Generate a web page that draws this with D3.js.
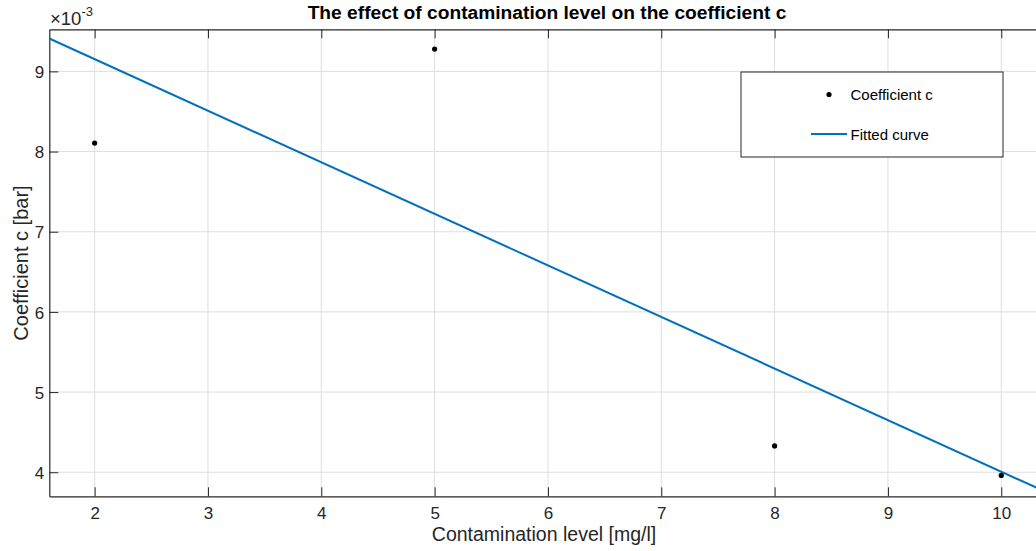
<!DOCTYPE html>
<html><head><meta charset="utf-8">
<script src="https://cdn.jsdelivr.net/npm/d3@7"></script>
<style>body{margin:0;background:#fff;overflow:hidden}svg{display:block}text{font-family:"Liberation Sans",Arial,Helvetica,sans-serif}</style>
</head><body>
<script>
const contamination = [2, 5, 8, 10];
const coefficientC = [8.106e-3, 9.278e-3, 4.328e-3, 3.96e-3];
const fittedX = [1.6, 10.4];
const fittedY = [9.41e-3, 3.75e-3];
const xTicks = [2, 3, 4, 5, 6, 7, 8, 9, 10];
const yTicks = [4, 5, 6, 7, 8, 9];

const W = 1036, H = 551;
const L = 49.3, T = 29.3, B = 496.3, R = 1046.6;
const svg = d3.select("body").append("svg").attr("width", W).attr("height", H);

const x = d3.scaleLinear().domain([1.6, 10.4]).range([L, R]);
const y = d3.scaleLinear().domain([3.7e-3, 9.525e-3]).range([B, T]);
const axisCol = "#262626";

// grid
const g = svg.append("g");
g.selectAll(".gx").data(xTicks).join("line")
  .attr("x1", d => x(d)).attr("x2", d => x(d)).attr("y1", T).attr("y2", B)
  .attr("stroke", "#dfdfdf").attr("stroke-width", 1);
g.selectAll(".gy").data(yTicks).join("line")
  .attr("x1", L).attr("x2", R).attr("y1", d => y(d * 1e-3)).attr("y2", d => y(d * 1e-3))
  .attr("stroke", "#dfdfdf").attr("stroke-width", 1);

// axes
const xAxis = d3.axisBottom(x).tickValues(xTicks).tickSizeInner(-9).tickSizeOuter(0).tickPadding(11).tickFormat(d3.format("d"));
const xg = svg.append("g").attr("transform", `translate(0,${B})`).call(xAxis);
const xTop = d3.axisTop(x).tickValues(xTicks).tickSizeInner(-9).tickSizeOuter(0).tickFormat("");
const xtg = svg.append("g").attr("transform", `translate(0,${T})`).call(xTop);
const yAxis = d3.axisLeft(y).tickValues(yTicks.map(d => d * 1e-3)).tickSizeInner(-9).tickSizeOuter(0).tickPadding(5)
  .tickFormat(d => d3.format("d")(Math.round(d * 1e3)));
const yg = svg.append("g").attr("transform", `translate(${L},0)`).call(yAxis);
[xg, xtg, yg].forEach(a => {
  a.select(".domain").attr("stroke", axisCol).attr("stroke-width", 1.2);
  a.selectAll(".tick line").attr("stroke", axisCol).attr("stroke-width", 1);
  a.selectAll(".tick text").attr("fill", axisCol).style("font-size", "17px");
});
yg.selectAll(".tick text").attr("dy", "0.36em");
xg.selectAll(".tick text").attr("dy", "0.71em");

// exponent label
const ex = svg.append("text").attr("x", 50).attr("y", 25).attr("fill", axisCol).style("font-size", "18.5px");
ex.append("tspan").text("×10");
ex.append("tspan").attr("dy", -9).style("font-size", "13px").text("-3");

// fitted line
svg.append("path")
  .datum(fittedX.map((d, i) => [d, fittedY[i]]))
  .attr("d", d3.line().x(d => x(d[0])).y(d => y(d[1])))
  .attr("fill", "none").attr("stroke", "#0072BD").attr("stroke-width", 2);

// points
svg.selectAll(".pt").data(contamination.map((d, i) => [d, coefficientC[i]])).join("circle")
  .attr("cx", d => x(d[0])).attr("cy", d => y(d[1])).attr("r", 2.6).attr("fill", "#000");

// title & labels
svg.append("text").attr("x", 547).attr("y", 19).attr("text-anchor", "middle")
  .style("font-size", "19.2px").style("font-weight", "bold").attr("fill", "#000")
  .text("The effect of contamination level on the coefficient c");
svg.append("text").attr("x", 544).attr("y", 541).attr("text-anchor", "middle")
  .style("font-size", "19.5px").attr("fill", axisCol).text("Contamination level [mg/l]");
svg.append("text").attr("transform", "translate(28,263) rotate(-90)").attr("text-anchor", "middle")
  .style("font-size", "20px").attr("fill", axisCol).text("Coefficient c [bar]");

// legend
const lg = svg.append("g");
lg.append("rect").attr("x", 741).attr("y", 72).attr("width", 262).attr("height", 85)
  .attr("fill", "#fff").attr("stroke", axisCol).attr("stroke-width", 1);
lg.append("circle").attr("cx", 829).attr("cy", 94.5).attr("r", 2.6).attr("fill", "#000");
lg.append("text").attr("x", 850.5).attr("y", 100).style("font-size", "15px").attr("fill", "#000").text("Coefficient c");
lg.append("line").attr("x1", 811).attr("x2", 847).attr("y1", 134).attr("y2", 134).attr("stroke", "#0072BD").attr("stroke-width", 2);
lg.append("text").attr("x", 850.5).attr("y", 140).style("font-size", "15px").attr("fill", "#000").text("Fitted curve");
</script>
</body></html>
